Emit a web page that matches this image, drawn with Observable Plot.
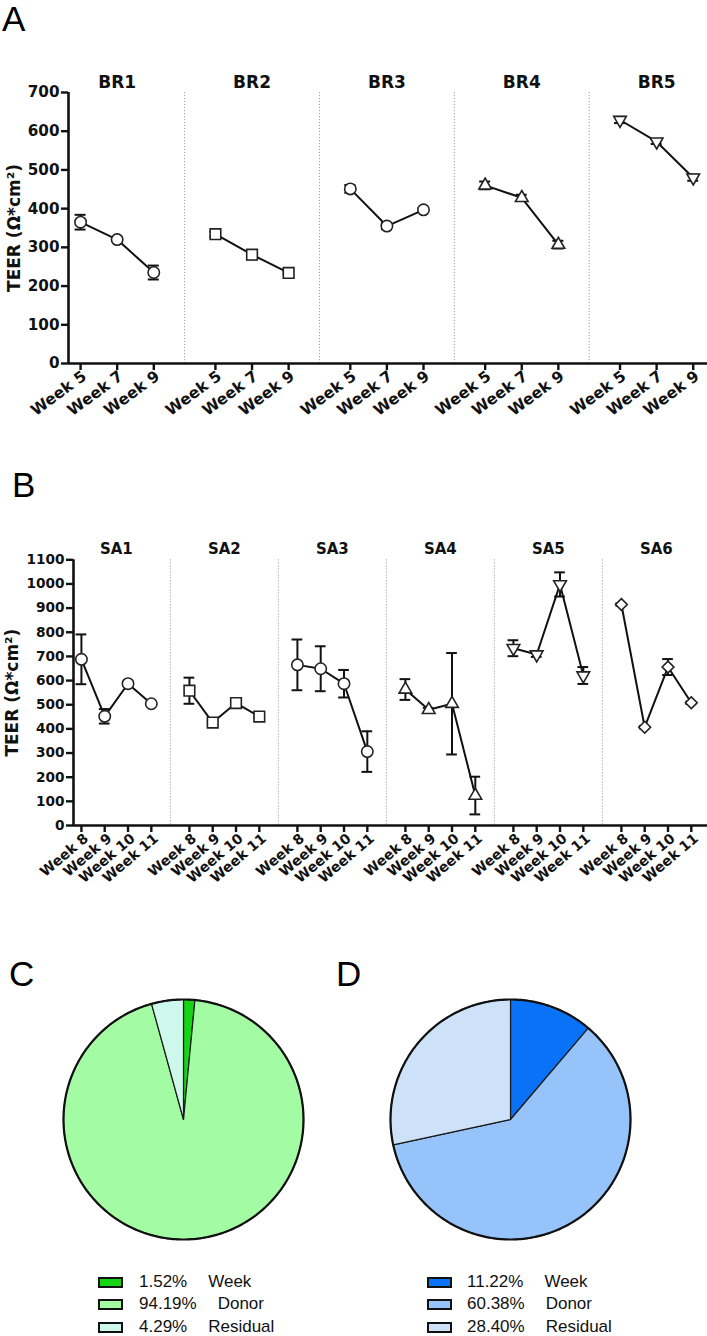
<!DOCTYPE html>
<html><head><meta charset="utf-8">
<script src="https://cdn.jsdelivr.net/npm/d3@7"></script>
<script src="https://cdn.jsdelivr.net/npm/@observablehq/plot@0.6"></script>
<style>
body{margin:0;background:#fff;}
#root{position:relative;width:707px;height:1336px;overflow:hidden;background:#fff;}
.abs{position:absolute;}
.letter{font-family:"Liberation Sans",Arial,sans-serif;font-size:35px;line-height:36px;color:#000;}
.leg{font-family:"Liberation Sans",Arial,sans-serif;font-size:17px;color:#111;}
.row{position:absolute;height:22px;line-height:22px;white-space:nowrap;}
.box{position:absolute;width:21px;height:7px;border:2px solid #111;}
</style></head>
<body><div id="root"></div>
<script>
// ---------- data ----------
const yLabel = "TEER (Ω*cm²)";

const brDonors = ["BR1","BR2","BR3","BR4","BR5"];
const brWeeks = ["Week 5","Week 7","Week 9"];
const brSymbols = ["circle","square","circle","triangle","triangleDown"];
const brMean = [[365,320,235],[334,281,234],[451,355,397],[460,428,307],[629,573,480]];
const brSD   = [[19,4,18],[6,12,4],[10,8,4],[10,8,10],[8,6,8]];
const brYTicks = [0,100,200,300,400,500,600,700];

const saDonors = ["SA1","SA2","SA3","SA4","SA5","SA6"];
const saWeeks = ["Week 8","Week 9","Week 10","Week 11"];
const saSymbols = ["circle","square","circle","triangle","triangleDown","diamond2"];
const saMean = [[688,452,587,504],[558,426,507,451],[665,649,587,306],[563,479,504,124],[734,708,998,621],[915,407,656,508]];
const saSD   = [[103,30,8,5],[54,6,6,5],[105,93,57,84],[43,8,210,78],[33,10,50,35],[5,5,33,5]];
const saYTicks = [0,100,200,300,400,500,600,700,800,900,1000,1100];

const pieLabels = ["Week","Donor","Residual"];
const pieCValues = [1.52,94.19,4.29];
const pieDValues = [11.22,60.38,28.40];
const pieCColors = ["#14d414","#a3fba3","#cff8ec"];
const pieDColors = ["#0a72f6","#95c3fa","#cde2f9"];

// ---------- helpers ----------
const root = document.getElementById("root");
function place(el, left, top){ el.classList.add("abs"); el.style.left = left+"px"; el.style.top = top+"px"; root.appendChild(el); return el; }
function letter(t, left, top){ const d = document.createElement("div"); d.className="letter"; d.textContent=t; place(d,left,top); }

const triangleDown = {draw(ctx, size){ const y = -Math.sqrt(size/(Math.sqrt(3)*3)); ctx.moveTo(0,-y*2); ctx.lineTo(-Math.sqrt(3)*y, y); ctx.lineTo(Math.sqrt(3)*y, y); ctx.closePath(); }};
const symbolR = {circle:5.7, square:6, triangle:4.7, triangleDown:4.7, diamond2:5.3};
const FONT = "'DejaVu Sans', sans-serif";

function panel(o){
  const data = [];
  o.donors.forEach((dn,g)=>o.weeks.forEach((wk,w)=>data.push({donor:dn,g,week:wk,pos:g*o.step+w,mean:o.means[g][w],sd:o.sds[g][w]})));
  const n = o.weeks.length-1;
  const dividers = o.donors.slice(1).map((_,g)=>g*o.step+n+(o.step-n)/2);
  const centers = o.donors.map((d,g)=>({name:d,pos:g*o.step+n/2}));
  const marks = [
    Plot.ruleX(dividers, {stroke:"#a0a0a0", strokeWidth:1, strokeDasharray:"1.2,1.8"}),
    Plot.axisY({ticks:o.yTicks, tickSize:7, strokeWidth:2.4, tickFormat:()=>"", label:null}),
    Plot.axisX({ticks:data.map(d=>d.pos), tickSize:7, strokeWidth:2.4, tickFormat:()=>"", label:null}),
    Plot.ruleY([0], {stroke:"#111", strokeWidth:2.6}),
    Plot.ruleX([o.xDomain[0]], {stroke:"#111", strokeWidth:2.6}),
    Plot.text(o.yTicks, {y:d=>d, text:d=>String(d), frameAnchor:"left", textAnchor:"end", dx:-9, fontSize:o.yFont, fontWeight:"bold", fill:"#111"}),
    Plot.text(data, {x:"pos", text:"week", frameAnchor:"bottom", textAnchor:"end", lineAnchor:"middle", rotate:o.rot, dx:o.xdx, dy:o.xdy, fontSize:o.xFont, fontWeight:"bold", fill:"#111"}),
    Plot.text(centers, {x:"pos", text:"name", frameAnchor:"top", dy:o.titleDy, fontSize:o.titleFont, fontWeight:"bold", fill:"#111"}),
    Plot.text([yLabel], {text:d=>d, frameAnchor:"left", textAnchor:"middle", dx:o.labelDx, rotate:-90, fontSize:17, fontWeight:"bold", fill:"#111"}),
    Plot.line(data, {x:"pos", y:"mean", z:"donor", stroke:"#111", strokeWidth:2}),
    Plot.ruleX(data, {x:"pos", y1:d=>d.mean-d.sd, y2:d=>d.mean+d.sd, stroke:"#111", strokeWidth:2}),
    Plot.ruleY(data, {y:d=>d.mean-d.sd, x1:d=>d.pos-o.cap, x2:d=>d.pos+o.cap, stroke:"#111", strokeWidth:2}),
    Plot.ruleY(data, {y:d=>d.mean+d.sd, x1:d=>d.pos-o.cap, x2:d=>d.pos+o.cap, stroke:"#111", strokeWidth:2}),
    ...o.donors.map((dn,g)=>{
      const s = o.symbols[g];
      return Plot.dot(data.filter(d=>d.g===g), {x:"pos", y:"mean", symbol: s==="triangleDown"?triangleDown:s, r:symbolR[s], fill:"white", stroke:"#222", strokeWidth:1.6});
    })
  ];
  return Plot.plot({
    width:707, height:o.height,
    marginTop:o.mt, marginBottom:o.mb, marginLeft:o.ml, marginRight:0,
    x:{domain:o.xDomain, axis:null}, y:{domain:[0,o.yMax], axis:null},
    style:{fontFamily:FONT, fontSize:"15px", color:"#111", background:"transparent", overflow:"visible"},
    marks
  });
}

// ---------- panel A ----------
letter("A", 2, 1);
place(panel({donors:brDonors, weeks:brWeeks, symbols:brSymbols, means:brMean, sds:brSD, yTicks:brYTicks,
  step:3.685, xDomain:[-0.33,17.13], yMax:700, height:440, mt:92, mb:77, ml:68,
  yFont:15.2, xFont:15.5, titleFont:17, rot:-36, xdx:4, xdy:11, titleDy:-17, labelDx:-53.5, cap:0.15}), 0, 0);

// ---------- panel B ----------
letter("B", 12, 467);
place(panel({donors:saDonors, weeks:saWeeks, symbols:saSymbols, means:saMean, sds:saSD, yTicks:saYTicks,
  step:4.635, xDomain:[-0.34,26.87], yMax:1100, height:420, mt:79.3, mb:75, ml:73,
  yFont:13.7, xFont:14, titleFont:15, rot:-40, xdx:5, xdy:11, titleDy:-16, labelDx:-60.5, cap:0.23}), 0, 480);

// ---------- pies ----------
function pie(values, colors){
  const total = d3.sum(values);
  const wedges = [];
  let a0 = 0;
  values.forEach((v,i)=>{
    const a1 = a0 + v/total*2*Math.PI;
    const n = Math.max(2, Math.ceil((a1-a0)/(Math.PI/180)));
    const pts = [{x:0,y:0}];
    for(let j=0;j<=n;j++){ const a = a0+(a1-a0)*j/n; pts.push({x:Math.sin(a), y:Math.cos(a)}); }
    wedges.push({pts, color:colors[i]});
    a0 = a1;
  });
  const ring = d3.range(0,361).map(k=>({x:Math.sin(k*Math.PI/180), y:Math.cos(k*Math.PI/180)}));
  const R = 125/120;
  return Plot.plot({
    width:250, height:250, margin:0,
    x:{domain:[-R,R], axis:null}, y:{domain:[-R,R], axis:null},
    style:{background:"transparent"},
    marks:[
      ...wedges.map(w=>Plot.line(w.pts, {x:"x", y:"y", fill:w.color, stroke:"#1a1a1a", strokeWidth:1.2, curve:"linear-closed"})),
      Plot.line(ring, {x:"x", y:"y", stroke:"#111", strokeWidth:2.2, fill:"none"})
    ]
  });
}
letter("C", 9, 956);
letter("D", 336, 956);
place(pie(pieCValues, pieCColors), 58, 994);
place(pie(pieDValues, pieDColors), 385, 994);

function legend(values, colors, boxLeft, textLeft){
  const rowsTop = [1271, 1293, 1316];
  values.forEach((v,i)=>{
    const r = document.createElement("div"); r.className="leg row";
    r.style.left = boxLeft+"px"; r.style.top = rowsTop[i]+"px";
    const b = document.createElement("div"); b.className="box"; b.style.left="0px"; b.style.top="6px"; b.style.background=colors[i];
    const p = document.createElement("span"); p.style.position="absolute"; p.style.left=(textLeft-boxLeft)+"px"; p.textContent = v.toFixed(2)+"%";
    const nm = document.createElement("span"); nm.style.position="absolute"; nm.textContent = pieLabels[i];
    r.appendChild(b); r.appendChild(p); r.appendChild(nm);
    root.appendChild(r);
    nm.style.left = (textLeft-boxLeft + p.getBoundingClientRect().width + 21) + "px";
  });
}
legend(pieCValues, pieCColors, 98, 139);
legend(pieDValues, pieDColors, 427, 467);
</script>
</body></html>
